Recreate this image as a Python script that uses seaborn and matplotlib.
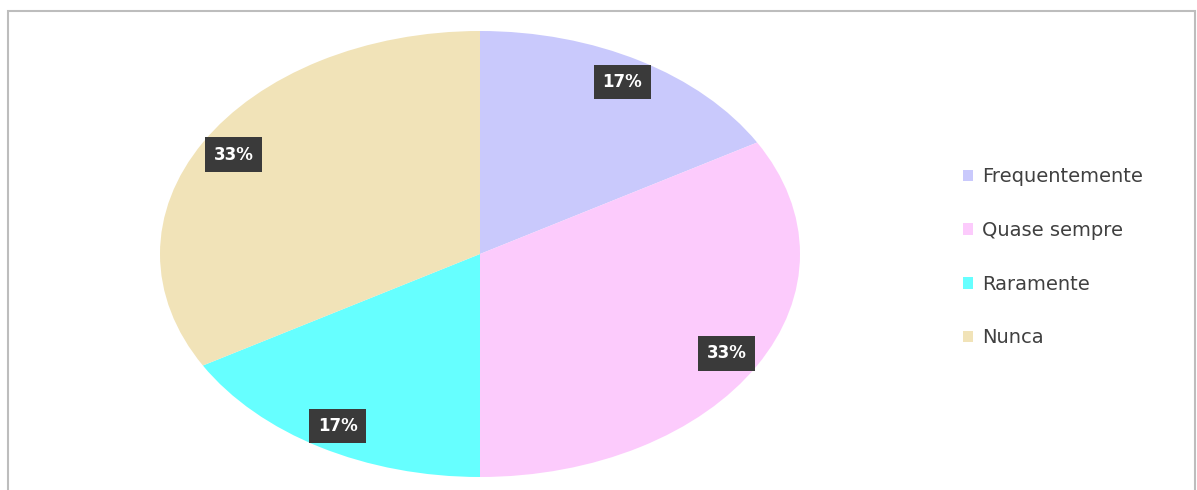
import matplotlib
matplotlib.use("Agg")
import matplotlib.pyplot as plt
import seaborn as sns
from matplotlib.patches import Rectangle

# dados
categorias = ["Frequentemente", "Quase sempre", "Raramente", "Nunca"]
valores = [1, 2, 1, 2]
cores = ["#c9c9fc", "#fccbfc", "#66ffff", "#f1e3b8"]

sns.set_theme(style="white")
plt.rcParams['font.family'] = ['DejaVu Sans']

W, H = 1197, 490
fig = plt.figure(figsize=(W / 100, H / 100), dpi=100)
fig.patch.set_facecolor("white")

# moldura cinza
fig.patches.append(Rectangle((8 / W, -0.1), 1187 / W, (479 / H) + 0.1,
                             transform=fig.transFigure, fill=False,
                             edgecolor="#bdbdbd", linewidth=1.5))

# eixo do pie (elipse esticada)
cx, cy, rx, ry = 480, 254, 320, 223
ax = fig.add_axes([(cx - rx) / W, (H - cy - ry) / H, 2 * rx / W, 2 * ry / H])

wedges, textos, pcts = ax.pie(
    valores, colors=cores, startangle=90, counterclock=False,
    autopct=lambda p: f"{p:.0f}%", pctdistance=0.89,
    wedgeprops=dict(linewidth=0),
    textprops=dict(color="white", fontsize=12, fontweight="bold"),
)
for t in pcts:
    t.set_bbox(dict(boxstyle="square,pad=0.5", facecolor="#3a3a3a",
                    edgecolor="none"))
ax.set_aspect("auto")
ax.set_xlim(-1, 1)
ax.set_ylim(-1, 1)
ax.axis("off")

# legenda
leg = fig.legend(wedges, categorias, loc="upper left",
                 bbox_to_anchor=(945 / W, (H - 150) / H),
                 frameon=False, fontsize=14, handlelength=0.55,
                 handleheight=0.55, handletextpad=0.45, labelspacing=1.78,
                 labelcolor="#404040")

fig.savefig("out.png", dpi=100)
